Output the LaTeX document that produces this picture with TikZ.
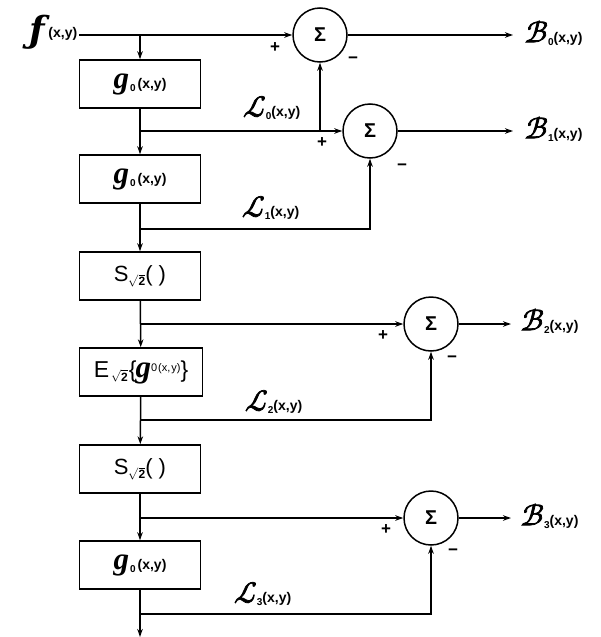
\documentclass[tikz,border=0pt]{standalone}
\usepackage{unicode-math}
\setmainfont{Liberation Sans}
\setmathfont{Latin Modern Math}
\newfontface\scrf{Latin Modern Math}[FakeBold=2.5]
\newfontfamily\ital{Liberation Serif}
\newfontfamily\dvs{DejaVu Serif}
\usetikzlibrary{arrows.meta}
\newcommand{\xyb}{\textbf{\fontsize{14}{14}\selectfont(x,y)}}
\newcommand{\scr}[1]{{\fontsize{30}{30}\selectfont\scrf #1}}
\newcommand{\scg}[1]{{\fontsize{31}{31}\selectfont\ital\bfseries\itshape #1}}
\newcommand{\sub}[1]{\raisebox{-3pt}{\textbf{\fontsize{10}{10}\selectfont #1}}}
\newcommand{\lab}[2]{\scr{#1}\sub{#2}\xyb}
\newcommand{\glab}{\scg{g}\kern1pt\sub{0}\kern2pt\xyb}
\newcommand{\rt}{\raisebox{-4pt}{\fontsize{12}{12}\selectfont$\sqrt{\textbf{2}}$}}
\begin{document}
\begin{tikzpicture}[x=1pt,y=-1pt,
  line width=1.5pt,
  arr/.style={-{Stealth[length=8pt,width=5.5pt]}},
  blk/.style={draw,minimum width=121pt,minimum height=48pt,inner sep=0pt},
  sumnode/.style={draw,circle,minimum size=54pt,inner sep=0pt,font=\bfseries\fontsize{20}{20}\selectfont},
  sgn/.style={font=\bfseries\fontsize{17}{17}\selectfont,inner sep=0pt},
  txt/.style={inner sep=0pt}]
\useasboundingbox (0,0) rectangle (601,637);
% blocks
\node[blk] (k1) at (140,84) {\glab};
\node[blk] (k2) at (140,179) {\glab};
\node[blk] (k3) at (140,276) {\fontsize{22}{22}\selectfont S\rt( )};
\node[blk,minimum width=123pt] (k4) at (141,372) {\fontsize{23}{23}\selectfont E\kern2pt\rt\kern1pt\{\kern-1pt\scg{g}\raisebox{6pt}{\fontsize{11}{11}\selectfont 0\kern1pt(x,\kern1pt y)}\}};
\node[blk] (k5) at (140,469) {\fontsize{22}{22}\selectfont S\rt( )};
\node[blk] (k6) at (140,565) {\glab};
% sums
\node[sumnode] (s0) at (320,35) {Σ};
\node[sumnode] (s1) at (370,131) {Σ};
\node[sumnode] (s2) at (431,324) {Σ};
\node[sumnode] (s3) at (431,518) {Σ};
% coordinates
\coordinate (in) at (79,35);
\coordinate (j0) at (140,35);
\coordinate (b0) at (140,131);
\coordinate (b1) at (140,229);
\coordinate (b2) at (140,324);
\coordinate (b3) at (140,420);
\coordinate (b4) at (140,518);
\coordinate (b5) at (140,614);
\coordinate (bend) at (140,637);
\coordinate (m0) at (320,131);
\coordinate (c1) at (370,229);
\coordinate (c2) at (431,420);
\coordinate (c3) at (431,614);
\coordinate (o0) at (513,35);
\coordinate (o1) at (513,131);
\coordinate (o2) at (511,324);
\coordinate (o3) at (511,518);
% input label
\node[txt,anchor=base east] (fin) at (78,42) {{\fontsize{36}{36}\selectfont\dvs\bfseries\itshape ƒ}\kern3pt\raisebox{5pt}{\xyb}};
% main chain
\draw[arr] (in) -- (s0);
\draw[arr] (j0) -- (k1);
\draw[arr] (k1) -- (k2);
\draw[arr] (k2) -- (k3);
\draw[arr] (k3) -- (k4);
\draw[arr] (k4) -- (k5);
\draw[arr] (k5) -- (k6);
\draw[arr] (k6) -- (bend);
% branches
\draw[arr] (b0) -- (s1);
\draw[arr] (m0) -- (s0);
\draw[arr] (b1) -- (c1) -- (s1);
\draw[arr] (b2) -- (s2);
\draw[arr] (b3) -- (c2) -- (s2);
\draw[arr] (b4) -- (s3);
\draw[arr] (b5) -- (c3) -- (s3);
% outputs
\draw[arr] (s0) -- (o0);
\draw[arr] (s1) -- (o1);
\draw[arr] (s2) -- (o2);
\draw[arr] (s3) -- (o3);
\node[txt,anchor=west] (B0) at (524,33) {\lab{ℬ}{0}};
\node[txt,anchor=west] (B1) at (524,129) {\lab{ℬ}{1}};
\node[txt,anchor=west] (B2) at (520,321) {\lab{ℬ}{2}};
\node[txt,anchor=west] (B3) at (520,516) {\lab{ℬ}{3}};
% L labels
\node[txt,anchor=west] (L0) at (242,108) {\lab{ℒ}{0}};
\node[txt,anchor=west] (L1) at (241,208) {\lab{ℒ}{1}};
\node[txt,anchor=west] (L2) at (244,402) {\lab{ℒ}{2}};
\node[txt,anchor=west] (L3) at (233,594) {\lab{ℒ}{3}};
% signs
\node[sgn] (p0) at (275,48) {+};
\node[sgn] (n0) at (353,60) {\textminus};
\node[sgn] (p1) at (322,143) {+};
\node[sgn] (n1) at (402,167) {\textminus};
\node[sgn] (p2) at (383,336) {+};
\node[sgn] (n2) at (452,359) {\textminus};
\node[sgn] (p3) at (386,530) {+};
\node[sgn] (n3) at (453,552) {\textminus};
\end{tikzpicture}
\end{document}
